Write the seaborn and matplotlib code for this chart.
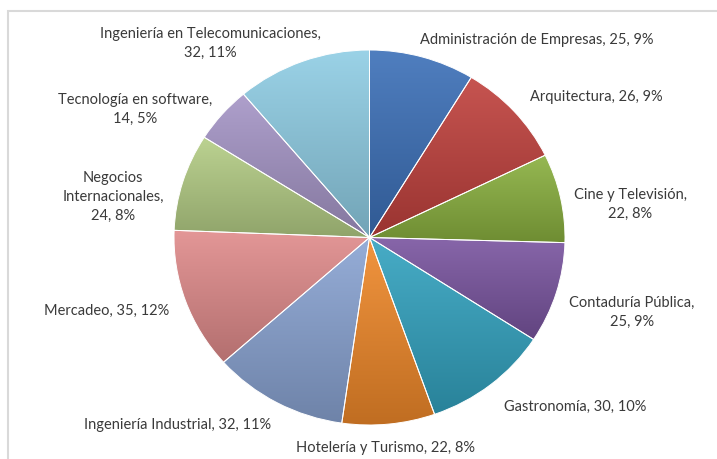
import numpy as np
import matplotlib
matplotlib.use('Agg')
import matplotlib.pyplot as plt
import seaborn as sns
from matplotlib.colors import to_rgb
from matplotlib.patches import Rectangle

sns.set_theme(style='white')
plt.rcParams['font.family'] = ['Lato', 'DejaVu Sans']

# datos
carreras = ['Administración de Empresas', 'Arquitectura', 'Cine y Televisión',
            'Contaduría Pública', 'Gastronomía', 'Hotelería y Turismo',
            'Ingeniería Industrial', 'Mercadeo', 'Negocios Internacionales',
            'Tecnología en software', 'Ingeniería en Telecomunicaciones']
estudiantes = [25, 26, 22, 25, 30, 22, 32, 35, 24, 14, 32]

# nombres como los parte Excel en las etiquetas
nombres_etiqueta = ['Administración de Empresas', 'Arquitectura', 'Cine y Televisión',
                    'Contaduría Pública', 'Gastronomía', 'Hotelería y Turismo',
                    'Ingeniería Industrial', 'Mercadeo', 'Negocios\nInternacionales',
                    'Tecnología en software', 'Ingeniería en Telecomunicaciones']
valor_abajo = [False, False, True, True, False, False, False, False, True, True, True]

colores = ['#3c70b8', '#c0413d', '#8ab03f', '#7a55a0', '#33a3c0', '#f0892a',
           '#8aa4d3', '#e08b8b', '#b4cd85', '#a595c6', '#8fcde4']

# posiciones de las etiquetas (centro, en pixeles desde arriba-izquierda)
pos_etiquetas = [(537, 40), (596, 97), (630, 204), (632, 312), (575, 407),
                 (386, 448), (178, 425), (107, 311), (113, 197), (135, 109),
                 (210, 43)]

W, H = 717, 459
k = 195.5 / 187.5          # el pastel sale un poco ovalado
cx, cy, radio = 369.5, 237.5, 195.5


def py(y):
    return (H - y) * k


fig = plt.figure(figsize=(W / 100, H / 100), dpi=100)
ax = fig.add_axes([0, 0, 1, 1])

wedges, _ = ax.pie(estudiantes, colors=colores, startangle=90, counterclock=False,
                   center=(cx, py(cy)), radius=radio,
                   wedgeprops=dict(edgecolor='white', linewidth=0.7))

# relleno degradado de cada porcion (claro arriba, oscuro abajo)
for w, c in zip(wedges, colores):
    base = np.array(to_rgb(c))
    ext = w.get_path().get_extents()
    t = np.linspace(0, 1, 100)[:, None]
    claro = base + (1 - base) * 0.10
    oscuro = base * 0.80
    grad = claro * (1 - t) + oscuro * t
    img = np.repeat(grad[:, None, :], 2, axis=1)
    im = ax.imshow(img, extent=(ext.x0, ext.x1, ext.y0, ext.y1), aspect='auto',
                   origin='upper', zorder=w.get_zorder(), interpolation='bilinear')
    im.set_clip_path(w)
    w.set_facecolor('none')
    w.set_zorder(w.get_zorder() + 0.1)

total = sum(estudiantes)
for nombre, v, abajo, (x, y) in zip(nombres_etiqueta, estudiantes, valor_abajo, pos_etiquetas):
    pct = round(v / total * 100)
    sep = ',\n' if abajo else ', '
    texto = f'{nombre}{sep}{v}, {pct}%'
    ax.text(x, py(y), texto, ha='center', va='center', multialignment='center',
            fontsize=10.5, color='#3a3a3a', linespacing=1.45)

# marco gris del grafico
ax.add_patch(Rectangle((8, py(470)), 720, (470 - 11) * k, fill=False,
                       edgecolor='#d9d9d9', linewidth=1.5, zorder=0))

ax.set_xlim(0, W)
ax.set_ylim(0, H * k)
ax.set_aspect('auto')
ax.axis('off')

fig.savefig('out.png', dpi=100)
